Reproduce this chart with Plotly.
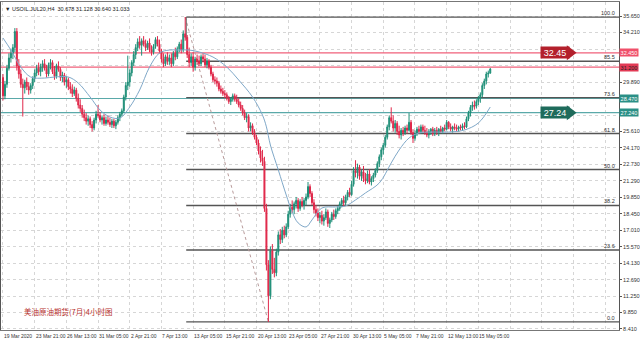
import plotly.graph_objects as go

# ---------------- data (H4 bars, USOIL.JUL20) ----------------
OPEN = [30.3,28.7,29.7,31.1,32.0,32.4,32.9,34.3,31.3,
        30.6,29.7,29.4,29.9,29.5,29.2,29.6,30.2,30.7,31.1,30.8,31.2,
        31.5,31.1,30.6,31.4,31.6,30.8,30.4,31.3,31.0,
        30.3,30.5,29.9,30.1,29.5,29.3,28.9,29.2,28.5,27.9,
        27.6,27.1,26.8,26.5,26.7,26.2,25.9,26.6,27.1,27.0,26.6,26.8,26.3,26.6,26.4,26.2,26.5,26.1,26.4,26.8,
        27.1,27.4,28.6,29.6,29.9,30.7,31.6,32.3,32.9,33.4,
        33.1,33.5,33.2,32.9,33.3,32.7,32.5,33.0,33.6,33.2,
        32.6,31.9,31.5,32.1,31.7,32.0,31.5,32.4,
        32.1,32.8,33.2,32.7,34.1,33.8,32.3,
        31.6,32.1,31.2,31.9,31.7,31.5,32.1,31.9,31.4,31.7,31.2,30.6,30.1,30.0,29.8,29.3,29.1,28.9,28.8,28.5,28.2,28.4,28.7,28.4,28.2,27.9,27.6,27.2,
        26.8,26.9,25.9,26.1,25.5,25.1,24.6,23.9,23.3,23.0,18.9,14.0,11.3,15.2,13.6,13.3,15.1,
        16.6,16.2,17.0,16.6,17.3,18.4,19.0,18.8,19.3,19.6,18.9,19.5,19.2,19.6,19.9,20.8,20.2,19.4,18.8,
        18.5,18.1,18.3,17.8,18.1,18.6,17.6,17.9,18.4,18.2,18.7,18.9,19.3,19.6,19.4,19.9,20.3,
        20.1,21.0,22.2,22.0,22.5,21.7,22.1,21.5,21.3,21.9,21.2,21.5,21.8,22.2,22.8,23.4,24.0,24.4,
        25.1,26.0,26.8,26.5,25.9,26.3,25.6,25.3,25.7,25.5,25.9,25.7,26.4,25.5,25.0,
        25.4,25.8,25.6,26.0,25.7,25.5,25.3,25.6,25.8,25.4,25.7,25.5,25.8,25.6,25.9,25.8,26.4,
        26.0,25.8,26.0,25.9,25.8,26.0,25.9,26.1,26.0,26.7,27.2,27.7,27.9,27.8,28.2,28.5,28.8,29.6,30.0,30.6,30.678]
HIGH = [30.6,30.0,31.4,32.4,32.8,33.2,34.6,34.6,31.9,
        31.0,30.2,30.1,30.3,29.9,29.8,30.4,31.0,31.4,31.6,31.5,31.8,
        31.9,31.4,31.6,31.9,31.8,31.3,31.5,31.7,31.2,
        30.8,30.7,30.4,30.3,29.9,29.7,29.5,29.4,28.9,28.4,
        27.9,27.5,27.2,27.0,26.9,26.5,26.8,27.4,27.9,27.3,27.0,27.1,26.9,27.0,26.8,26.7,26.7,26.6,27.0,27.3,
        27.6,28.8,29.9,32.2,31.0,31.8,32.6,33.2,33.7,33.9,
        33.7,33.9,33.6,33.5,33.7,33.1,33.2,33.8,33.9,33.6,
        32.8,32.4,32.3,32.5,32.3,32.4,32.6,32.9,
        33.0,33.4,33.6,34.4,35.56,34.0,32.9,
        32.4,32.5,32.1,32.3,32.2,32.3,32.4,32.3,32.0,31.9,31.4,30.8,30.4,30.3,30.0,29.6,29.4,29.2,29.0,28.7,28.6,28.9,28.9,28.8,28.5,28.2,27.9,27.5,
        27.2,27.1,26.4,26.3,25.8,25.3,24.9,24.3,24.0,23.4,19.3,14.4,15.6,15.8,14.6,15.4,16.9,
        17.1,17.3,17.4,17.6,18.7,19.3,19.6,19.5,19.9,19.8,19.7,19.9,19.8,20.2,21.2,21.0,20.4,19.7,19.2,
        18.9,18.6,18.7,18.4,18.9,18.8,18.1,18.6,18.8,18.9,19.1,19.5,19.8,20.0,20.1,20.5,20.7,
        21.3,22.5,23.1,22.8,22.7,22.3,22.6,22.0,22.2,22.3,21.7,22.0,22.4,23.0,23.6,24.2,24.6,25.3,
        26.2,27.0,27.7,27.0,26.6,26.5,26.1,25.9,26.0,26.1,26.2,27.2,26.6,25.8,25.7,
        26.0,26.1,26.2,26.2,26.1,25.9,25.8,25.9,26.0,25.9,26.0,25.9,26.1,26.0,26.2,26.6,26.5,
        26.3,26.1,26.3,26.2,26.1,26.2,26.3,26.4,26.9,27.4,27.9,28.2,28.3,28.4,28.7,29.0,29.8,30.2,30.8,30.9,31.128]
LOW = [28.3,28.4,29.4,30.9,31.6,31.9,32.5,30.9,30.2,
       29.4,26.9,28.9,29.2,28.8,28.9,29.3,29.9,30.4,30.5,30.4,30.8,
       30.9,30.3,30.4,31.0,30.6,30.1,30.2,30.8,30.0,
       29.9,29.6,29.4,29.2,28.9,28.6,28.7,28.2,27.6,27.3,
       26.8,26.5,26.2,26.1,25.9,25.6,25.7,26.3,26.8,26.4,26.2,26.1,26.1,26.2,26.0,25.9,25.9,25.8,26.2,26.5,
       26.9,27.2,28.3,29.2,29.5,30.4,31.3,31.9,32.6,32.8,
       32.2,33.0,32.6,32.7,32.5,32.2,32.3,32.8,33.0,32.4,
       31.6,31.2,31.3,31.4,31.4,31.2,31.3,31.8,
       31.9,32.5,32.4,32.5,33.5,32.0,31.2,
       31.3,30.8,30.9,31.4,31.3,31.3,31.6,31.2,31.1,31.0,30.4,29.9,29.7,29.5,29.1,28.9,28.7,28.5,28.3,28.0,27.9,28.2,28.2,28.0,27.7,27.4,27.0,26.6,
       26.4,25.6,25.6,25.3,24.9,24.4,23.6,22.9,22.6,18.6,13.5,9.02,11.0,13.2,12.9,13.0,14.8,
       15.8,15.9,16.3,16.4,17.1,18.1,18.5,18.4,18.9,18.6,18.7,19.0,18.8,19.2,19.7,19.9,19.2,18.5,18.2,
       17.8,17.6,17.5,17.4,17.9,17.3,17.2,17.7,17.9,18.0,18.4,18.7,19.0,19.1,19.2,19.6,19.9,
       20.0,20.8,21.6,21.5,21.4,21.3,21.2,21.0,21.1,21.0,20.9,21.2,21.6,22.0,22.5,23.1,23.6,24.2,
       24.9,25.7,26.3,25.6,25.5,25.3,25.0,24.9,25.2,25.3,25.4,25.6,25.3,24.6,24.8,
       25.2,25.4,25.4,25.5,25.3,25.1,25.0,25.3,25.2,25.2,25.3,25.2,25.5,25.4,25.6,25.7,25.8,
       25.6,25.5,25.7,25.6,25.6,25.7,25.7,25.8,25.9,26.5,26.9,27.4,27.5,27.6,27.9,28.1,28.6,29.3,29.7,30.3,30.640]
CLOSE = [28.7,29.7,31.1,32.0,32.4,32.9,34.3,31.3,30.6,
         29.7,29.4,29.9,29.5,29.2,29.6,30.2,30.7,31.1,30.8,31.2,31.5,
         31.1,30.6,31.4,31.6,30.8,30.4,31.3,31.0,30.3,
         30.5,29.9,30.1,29.5,29.3,28.9,29.2,28.5,27.9,27.6,
         27.1,26.8,26.5,26.7,26.2,25.9,26.6,27.1,27.0,26.6,26.8,26.3,26.6,26.4,26.2,26.5,26.1,26.4,26.8,27.1,
         27.4,28.6,29.6,29.9,30.7,31.6,32.3,32.9,33.4,33.1,
         33.5,33.2,32.9,33.3,32.7,32.5,33.0,33.6,33.2,32.6,
         31.9,31.5,32.1,31.7,32.0,31.5,32.4,32.1,
         32.8,33.2,32.7,34.1,33.8,32.3,31.6,
         32.1,31.2,31.9,31.7,31.5,32.1,31.9,31.4,31.7,31.2,30.6,30.1,30.0,29.8,29.3,29.1,28.9,28.8,28.5,28.2,28.4,28.7,28.4,28.2,27.9,27.6,27.2,26.8,
         26.9,25.9,26.1,25.5,25.1,24.6,23.9,23.3,23.0,18.9,14.0,11.3,15.2,13.6,13.3,15.1,16.6,
         16.2,17.0,16.6,17.3,18.4,19.0,18.8,19.3,19.6,18.9,19.5,19.2,19.6,19.9,20.8,20.2,19.4,18.8,18.5,
         18.1,18.3,17.8,18.1,18.6,17.6,17.9,18.4,18.2,18.7,18.9,19.3,19.6,19.4,19.9,20.3,20.1,
         21.0,22.2,22.0,22.5,21.7,22.1,21.5,21.3,21.9,21.2,21.5,21.8,22.2,22.8,23.4,24.0,24.4,25.1,
         26.0,26.8,26.5,25.9,26.3,25.6,25.3,25.7,25.5,25.9,25.7,26.4,25.5,25.0,25.4,
         25.8,25.6,26.0,25.7,25.5,25.3,25.6,25.8,25.4,25.7,25.5,25.8,25.6,25.9,25.8,26.4,26.0,
         25.8,26.0,25.9,25.8,26.0,25.9,26.1,26.0,26.7,27.2,27.7,27.9,27.8,28.2,28.5,28.8,29.6,30.0,30.6,30.678,31.033]

# moving average (bar index, value)
MA_BARS = [0,4,9,14,21,26,33,38,44,49,54,59,64,69,74,79,84,89,94,99,106,113,119,126,131,133,135,139,143,146,149,153,156,161,168,173,178,183,190,196,200,205,210,216,225,233,240,246]
MA_VALS = [33.74,32.69,31.21,30.34,30.25,30.34,30.34,29.82,28.60,27.47,26.86,26.77,27.73,29.21,31.21,32.43,32.69,32.69,32.69,32.52,32.08,31.21,30.08,28.60,27.03,26.0,24.42,22.25,20.07,18.59,17.64,17.29,17.90,18.94,19.03,19.12,19.64,20.25,21.12,22.86,23.99,25.03,25.47,25.55,25.55,25.73,26.34,27.73]

X_LABELS = ["19 Mar 2020","23 Mar 21:00","26 Mar 13:00","31 Mar 05:00","2 Apr 21:00","7 Apr 13:00",
            "13 Apr 05:00","15 Apr 21:00","20 Apr 13:00","23 Apr 05:00","27 Apr 21:00","30 Apr 13:00",
            "5 May 05:00","7 May 21:00","12 May 13:00","15 May 05:00"]
Y_TICKS = [35.65,34.21,32.77,31.33,29.89,28.45,27.01,25.61,24.17,22.73,21.29,19.85,18.45,17.01,15.57,14.13,12.69,11.25,9.85,8.41]
Y_HIDDEN = [32.77, 31.33, 28.45, 27.01]   # covered by the price tags in the reference

FIB_HIGH = 35.56
FIB_LOW = 9.02
FIB_HIGH_BAR = 92
FIB_LOW_BAR = 134
FIB_RATIOS = [0.0, 0.236, 0.382, 0.5, 0.618, 0.736, 0.855, 1.0]
FIB_TEXT = ["0.0", "23.6", "38.2", "50.0", "61.8", "73.6", "85.5", "100.0"]

RED_LEVELS = [32.45, 31.2]
TEAL_LEVELS = [28.47, 27.24]
ARROWS = [(32.45, "32.45", "#b3202c"), (27.24, "27.24", "#1f6b5b")]
HEADER = "USOIL.JUL20,H4  30.678 31.128 30.640 31.033"
TITLE_CN = "美油原油期货(7月)4小时图"

BULL = "#1f8f78"
BEAR = "#e0284a"
PINK = "#f0607a"
TEAL = "#5aa9a9"
SMALL = "Liberation Sans Narrow, Liberation Sans, Arial"

X_MIN, X_MAX = -1, 311
Y_MIN, Y_MAX = 8.32, 36.87

idx = list(range(len(CLOSE)))
fig = go.Figure()

# full-width horizontal price lines
for v in RED_LEVELS:
    fig.add_shape(type="line", xref="x", yref="y", x0=X_MIN, x1=X_MAX, y0=v, y1=v,
                  line=dict(color=PINK, width=1.3), layer="between")
for v in TEAL_LEVELS:
    fig.add_shape(type="line", xref="x", yref="y", x0=X_MIN, x1=X_MAX, y0=v, y1=v,
                  line=dict(color=TEAL, width=1.2), layer="between")

# fibonacci levels
rng = FIB_HIGH - FIB_LOW
for r, t in zip(FIB_RATIOS, FIB_TEXT):
    lv = FIB_LOW + r * rng
    fig.add_shape(type="line", xref="x", yref="y", x0=FIB_HIGH_BAR + 0.5, x1=X_MAX, y0=lv, y1=lv,
                  line=dict(color="#555555", width=1.3), layer="between")
    fig.add_annotation(xref="paper", yref="y", x=0.997, y=lv, text=t, showarrow=False,
                       xanchor="right", yanchor="bottom", yshift=-1,
                       font=dict(family=SMALL, size=5.5, color="#333333"))
fig.add_shape(type="line", xref="x", yref="y", x0=FIB_HIGH_BAR, x1=FIB_LOW_BAR,
              y0=FIB_HIGH, y1=FIB_LOW, line=dict(color="#b89a9a", width=1, dash="dot"), layer="between")
fig.add_shape(type="line", xref="x", yref="y", x0=FIB_HIGH_BAR + 0.5, x1=FIB_HIGH_BAR + 0.5,
              y0=FIB_HIGH, y1=33.6, line=dict(color="#555555", width=1), layer="between")

# moving average
fig.add_trace(go.Scatter(x=MA_BARS, y=MA_VALS, mode="lines", line=dict(color="#7fa8c8", width=1),
                         line_shape="spline", hoverinfo="skip", showlegend=False))

# candles
fig.add_trace(go.Candlestick(x=idx, open=OPEN, high=HIGH, low=LOW, close=CLOSE,
                             increasing=dict(line=dict(color=BULL, width=1), fillcolor=BULL),
                             decreasing=dict(line=dict(color=BEAR, width=1), fillcolor=BEAR),
                             whiskerwidth=0, showlegend=False))

# price arrows
for v, t, c in ARROWS:
    fig.add_annotation(xref="x", yref="y", x=271, y=v, text=t, showarrow=False, xanchor="left",
                       bgcolor=c, width=28, height=11, borderpad=0,
                       font=dict(family="Liberation Sans", size=9, color="white"))
    fig.add_trace(go.Scatter(x=[286.3], y=[v], mode="markers",
                             marker=dict(symbol="triangle-right", size=13, color=c),
                             hoverinfo="skip", showlegend=False))

# right-axis value tags
for v, c, tc in [(RED_LEVELS[0], "#f0506a", "white"), (RED_LEVELS[1], "#e23a55", "#222222"),
                 (TEAL_LEVELS[0], "#2a8f86", "white"), (TEAL_LEVELS[1], "#2a8f86", "white")]:
    fig.add_annotation(xref="paper", yref="y", x=1.0, y=v, text=f"{v:.3f}", showarrow=False,
                       xanchor="left", bgcolor=c, width=18, height=7, borderpad=0,
                       font=dict(family=SMALL, size=5.5, color=tc))

# x labels (left aligned at tick bars)
for k, lab in enumerate(X_LABELS):
    fig.add_annotation(xref="x", yref="paper", x=16 * k, y=0, text=lab, showarrow=False,
                       xanchor="left", yanchor="top", yshift=-1, xshift=-1,
                       font=dict(family=SMALL, size=5, color="#333333"))

# header + chinese caption
fig.add_annotation(xref="paper", yref="paper", x=0.003, y=0.995, text="▼ " + HEADER, showarrow=False,
                   xanchor="left", yanchor="top", font=dict(family=SMALL, size=5.5, color="#222222"))
fig.add_annotation(xref="paper", yref="paper", x=0.034, y=0.055, text=TITLE_CN, showarrow=False,
                   xanchor="left", yanchor="middle", font=dict(family="Noto Sans CJK SC", size=7.5, color="#b8322e"))

fig.update_layout(
    width=640, height=340, margin=dict(l=0, r=18, t=2, b=10),
    paper_bgcolor="white", plot_bgcolor="white",
    xaxis=dict(range=[X_MIN, X_MAX], tickvals=list(range(0, 311, 16)), showticklabels=False,
               showgrid=True, gridcolor="#d6d6d6", griddash="dot", gridwidth=1, zeroline=False,
               showline=True, linecolor="#777777", linewidth=1, mirror=True, rangeslider=dict(visible=False)),
    yaxis=dict(range=[Y_MIN, Y_MAX], side="right", tickvals=Y_TICKS,
               ticktext=["" if v in Y_HIDDEN else f"{v:.3f}" for v in Y_TICKS],
               showgrid=True, gridcolor="#d6d6d6", griddash="dot", gridwidth=1, zeroline=False,
               showline=True, linecolor="#555555", linewidth=1, mirror=True,
               ticks="outside", ticklen=2, tickcolor="#555555",
               tickfont=dict(family=SMALL, size=5.5, color="#333333")),
    showlegend=False,
)
fig.write_html("out.html")
